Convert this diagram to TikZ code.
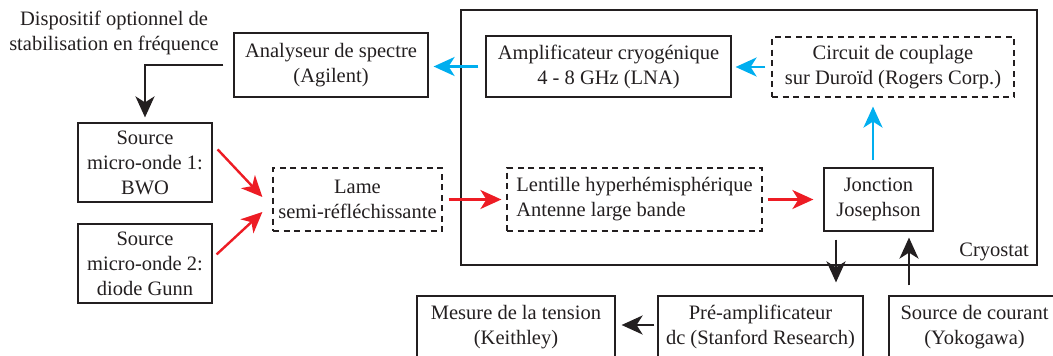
\documentclass[tikz,border=0pt]{standalone}
\usepackage{fontspec}
\setmainfont{Liberation Serif}
\usetikzlibrary{arrows.meta,calc}
\definecolor{ink}{HTML}{231F20}
\definecolor{cyanarrow}{HTML}{00AEEF}
\definecolor{redarrow}{HTML}{ED1C24}
\begin{document}
\begin{tikzpicture}[x=1pt,y=-1pt,
  lbl/.style={inner sep=0pt, text=ink, align=center, font=\fontsize{20.5}{25}\selectfont},
  box/.style={lbl, draw=ink, line width=1.2pt},
  dbox/.style={box, dash pattern=on 6pt off 4.5pt},
  conn/.style={line width=2.4pt, -{Stealth[length=21pt,width=19pt,inset=6pt]}}
]
\useasboundingbox (0,0) rectangle (1053,356);
\clip (0,0) rectangle (1053,356);

% cryostat enclosure
\node[draw=ink, line width=1.3pt, minimum width=576pt, minimum height=255pt, inner sep=0pt] (cryo) at (749,137.5) {};
\node[lbl, anchor=base east] (cryolbl) at (1029,256) {Cryostat};

% nodes
\node[lbl] (dispo) at (114,33) {Dispositif optionnel de\\stabilisation en fréquence};
\node[box, minimum width=194pt, minimum height=64pt] (ana) at (331,65) {Analyseur de spectre\\(Agilent)};
\node[box, minimum width=245pt, minimum height=61pt] (amp) at (608.5,66.5) {Amplificateur cryogénique\\4 - 8 GHz (LNA)};
\node[dbox, minimum width=242pt, minimum height=60pt] (cir) at (893,67) {Circuit de couplage\\sur Duroïd (Rogers Corp.)};
\node[box, minimum width=134pt, minimum height=79pt] (src1) at (145,162.5) {Source\\micro-onde 1:\\BWO};
\node[box, minimum width=134pt, minimum height=79pt] (src2) at (145,263.5) {Source\\micro-onde 2:\\diode Gunn};
\node[dbox, minimum width=169pt, minimum height=63pt] (lame) at (357.5,199.5) {Lame\\semi-réfléchissante};
\node[dbox, align=left, minimum width=255pt, minimum height=63pt] (lent) at (634.5,199.5) {Lentille hyperhémisphérique\\Antenne large bande};
\node[box, minimum width=109pt, minimum height=63pt] (jon) at (878.5,199.5) {Jonction\\Josephson};
\node[box, minimum width=198pt, minimum height=62pt] (mes) at (516,327) {Mesure de la tension\\(Keithley)};
\node[box, minimum width=205pt, minimum height=62pt] (pre) at (760.5,327) {Pré-amplificateur\\dc (Stanford Research)};
\node[box, minimum width=171pt, minimum height=62pt] (cou) at (974.5,327) {Source de courant\\(Yokogawa)};

% helper coordinates for vertical connectors
\coordinate (jx) at (873,0);
\coordinate (dx) at (836,0);
\coordinate (ux) at (909,0);

% black connectors
\draw[conn, ink, shorten <=10pt, shorten >=5pt] (ana.west) -| (src1.north);
\draw[conn, ink, shorten <=8pt, shorten >=13pt] (jon.south -| dx) -- (pre.north -| dx);
\draw[conn, ink, shorten <=10pt, shorten >=6pt] (cou.north -| ux) -- (jon.south -| ux);
\draw[conn, ink, shorten <=3pt, shorten >=6pt] ($(pre.west)+(0,-2)$) -- ($(pre.west -| mes.east)+(0,-2)$);

% blue connectors
\draw[conn, cyanarrow, shorten <=7pt, shorten >=5pt] (amp.west) -- (amp.west -| ana.east);
\draw[conn, cyanarrow, shorten <=6pt, shorten >=4pt] (cir.west) -- (cir.west -| amp.east);
\draw[conn, cyanarrow, shorten <=7pt, shorten >=9pt] (jon.north -| jx) -- (cir.south -| jx);

% red connectors
\draw[conn, redarrow] ($(src1.north east)+(5,27)$) -- ($(lame.west)+(-10,-2.5)$);
\draw[conn, redarrow] ($(src2.north east)+(4,31)$) -- ($(lame.west)+(-10,12.5)$);
\draw[conn, redarrow, shorten <=6pt, shorten >=5pt] (lame.east) -- (lame.east -| lent.west);
\draw[conn, redarrow, shorten <=5pt, shorten >=10pt] (lent.east) -- (lent.east -| jon.west);
\end{tikzpicture}
\end{document}
